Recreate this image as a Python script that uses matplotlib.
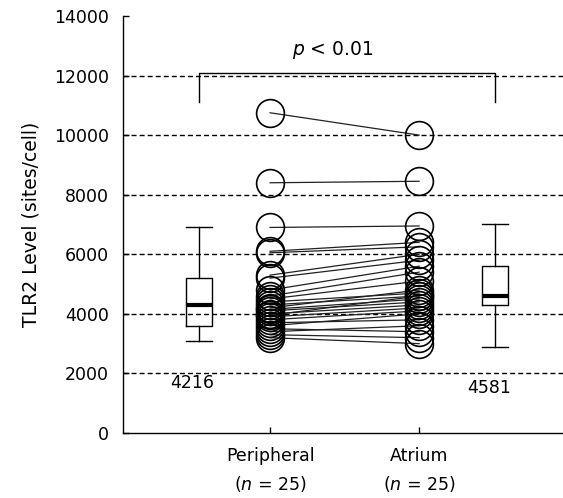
import matplotlib
matplotlib.use("Agg")
import matplotlib.pyplot as plt

# ---- data ----
categories = ["Peripheral", "Atrium"]
n_labels = ["25", "25"]
peripheral = [10750, 8400, 6900, 6100, 6050, 5300, 5200, 4800, 4600, 4500,
              4400, 4300, 4200, 4150, 4100, 4000, 3950, 3900, 3800, 3700,
              3600, 3500, 3400, 3300, 3200]
atrium = [10000, 8450, 6950, 6400, 6250, 6000, 5800, 5600, 5400, 5100,
          4700, 4600, 4800, 4500, 4400, 4300, 4600, 4200, 4100, 3800,
          4000, 3400, 3600, 3200, 3000]
box_whislo = [3100, 2900]
box_q1 = [3600, 4300]
box_med = [4300, 4600]
box_q3 = [5200, 5600]
box_whishi = [6900, 7000]
median_labels = ["4216", "4581"]
p_text = r"$p$ < 0.01"
yticks = [0, 2000, 4000, 6000, 8000, 10000, 12000, 14000]
bracket_top = 12100
bracket_bottom = 11100

# ---- layout ----
x_pts = [1, 2]
x_box = [0.523, 2.51]
x_lab = [0.477, 2.47]
y_lab = [1680, 1510]

plt.rcParams['font.family'] = ['DejaVu Sans']
plt.rcParams['mathtext.fontset'] = 'dejavusans'

fig = plt.figure(figsize=(5.63, 4.98), dpi=100)
ax = fig.add_axes([0.2185, 0.1305, 0.7815, 0.8375])
ax.set_xlim(0.013, 2.966)
ax.set_ylim(0, 14000)

# grid lines
for v in yticks[1:-1]:
    ax.axhline(v, color='black', lw=1.0, ls=(0, (3.6, 2.2)), zorder=1)

# paired lines
for a, b in zip(peripheral, atrium):
    ax.plot(x_pts, [a, b], color='#222222', lw=0.9, zorder=2)

# circles
ax.plot([x_pts[0]] * len(peripheral), peripheral, 'o', ms=20, mfc='none',
        mec='black', mew=1.2, zorder=3, ls='none')
ax.plot([x_pts[1]] * len(atrium), atrium, 'o', ms=20, mfc='none',
        mec='black', mew=1.2, zorder=3, ls='none')

# boxplots
stats = []
for i in range(2):
    stats.append(dict(med=box_med[i], q1=box_q1[i], q3=box_q3[i],
                      whislo=box_whislo[i], whishi=box_whishi[i], fliers=[]))
ax.bxp(stats, positions=x_box, widths=0.175, capwidths=0.175,
       showfliers=False, patch_artist=False,
       boxprops=dict(color='black', lw=1.0),
       whiskerprops=dict(color='black', lw=1.0),
       capprops=dict(color='black', lw=1.0),
       medianprops=dict(color='black', lw=3.0),
       manage_ticks=False)

for xl, yl, t in zip(x_lab, y_lab, median_labels):
    ax.text(xl, yl, t, ha='center', va='center', fontsize=12.5)

# significance bracket
ax.plot([x_box[0], x_box[0], x_box[1], x_box[1]],
        [bracket_bottom, bracket_top, bracket_top, bracket_bottom],
        color='black', lw=1.0, zorder=4)
ax.text(1.42, 12850, p_text, ha='center', va='center', fontsize=13.5)

# axes styling
ax.spines['top'].set_visible(False)
ax.spines['right'].set_visible(False)
ax.spines['left'].set_linewidth(1.0)
ax.spines['bottom'].set_linewidth(1.0)
ax.set_yticks(yticks)
ax.set_yticklabels([str(v) for v in yticks])
ax.set_xticks(x_pts)
ax.set_xticklabels([f"{c}\n($n$ = {n})" for c, n in zip(categories, n_labels)],
                   linespacing=1.6)
ax.tick_params(axis='both', direction='in', length=4, width=1.0,
               labelsize=12.5)
ax.tick_params(axis='y', pad=10)
ax.tick_params(axis='x', pad=10)
ax.set_ylabel("TLR2 Level (sites/cell)", fontsize=13.5, labelpad=10)

fig.savefig("out.png", dpi=100)
